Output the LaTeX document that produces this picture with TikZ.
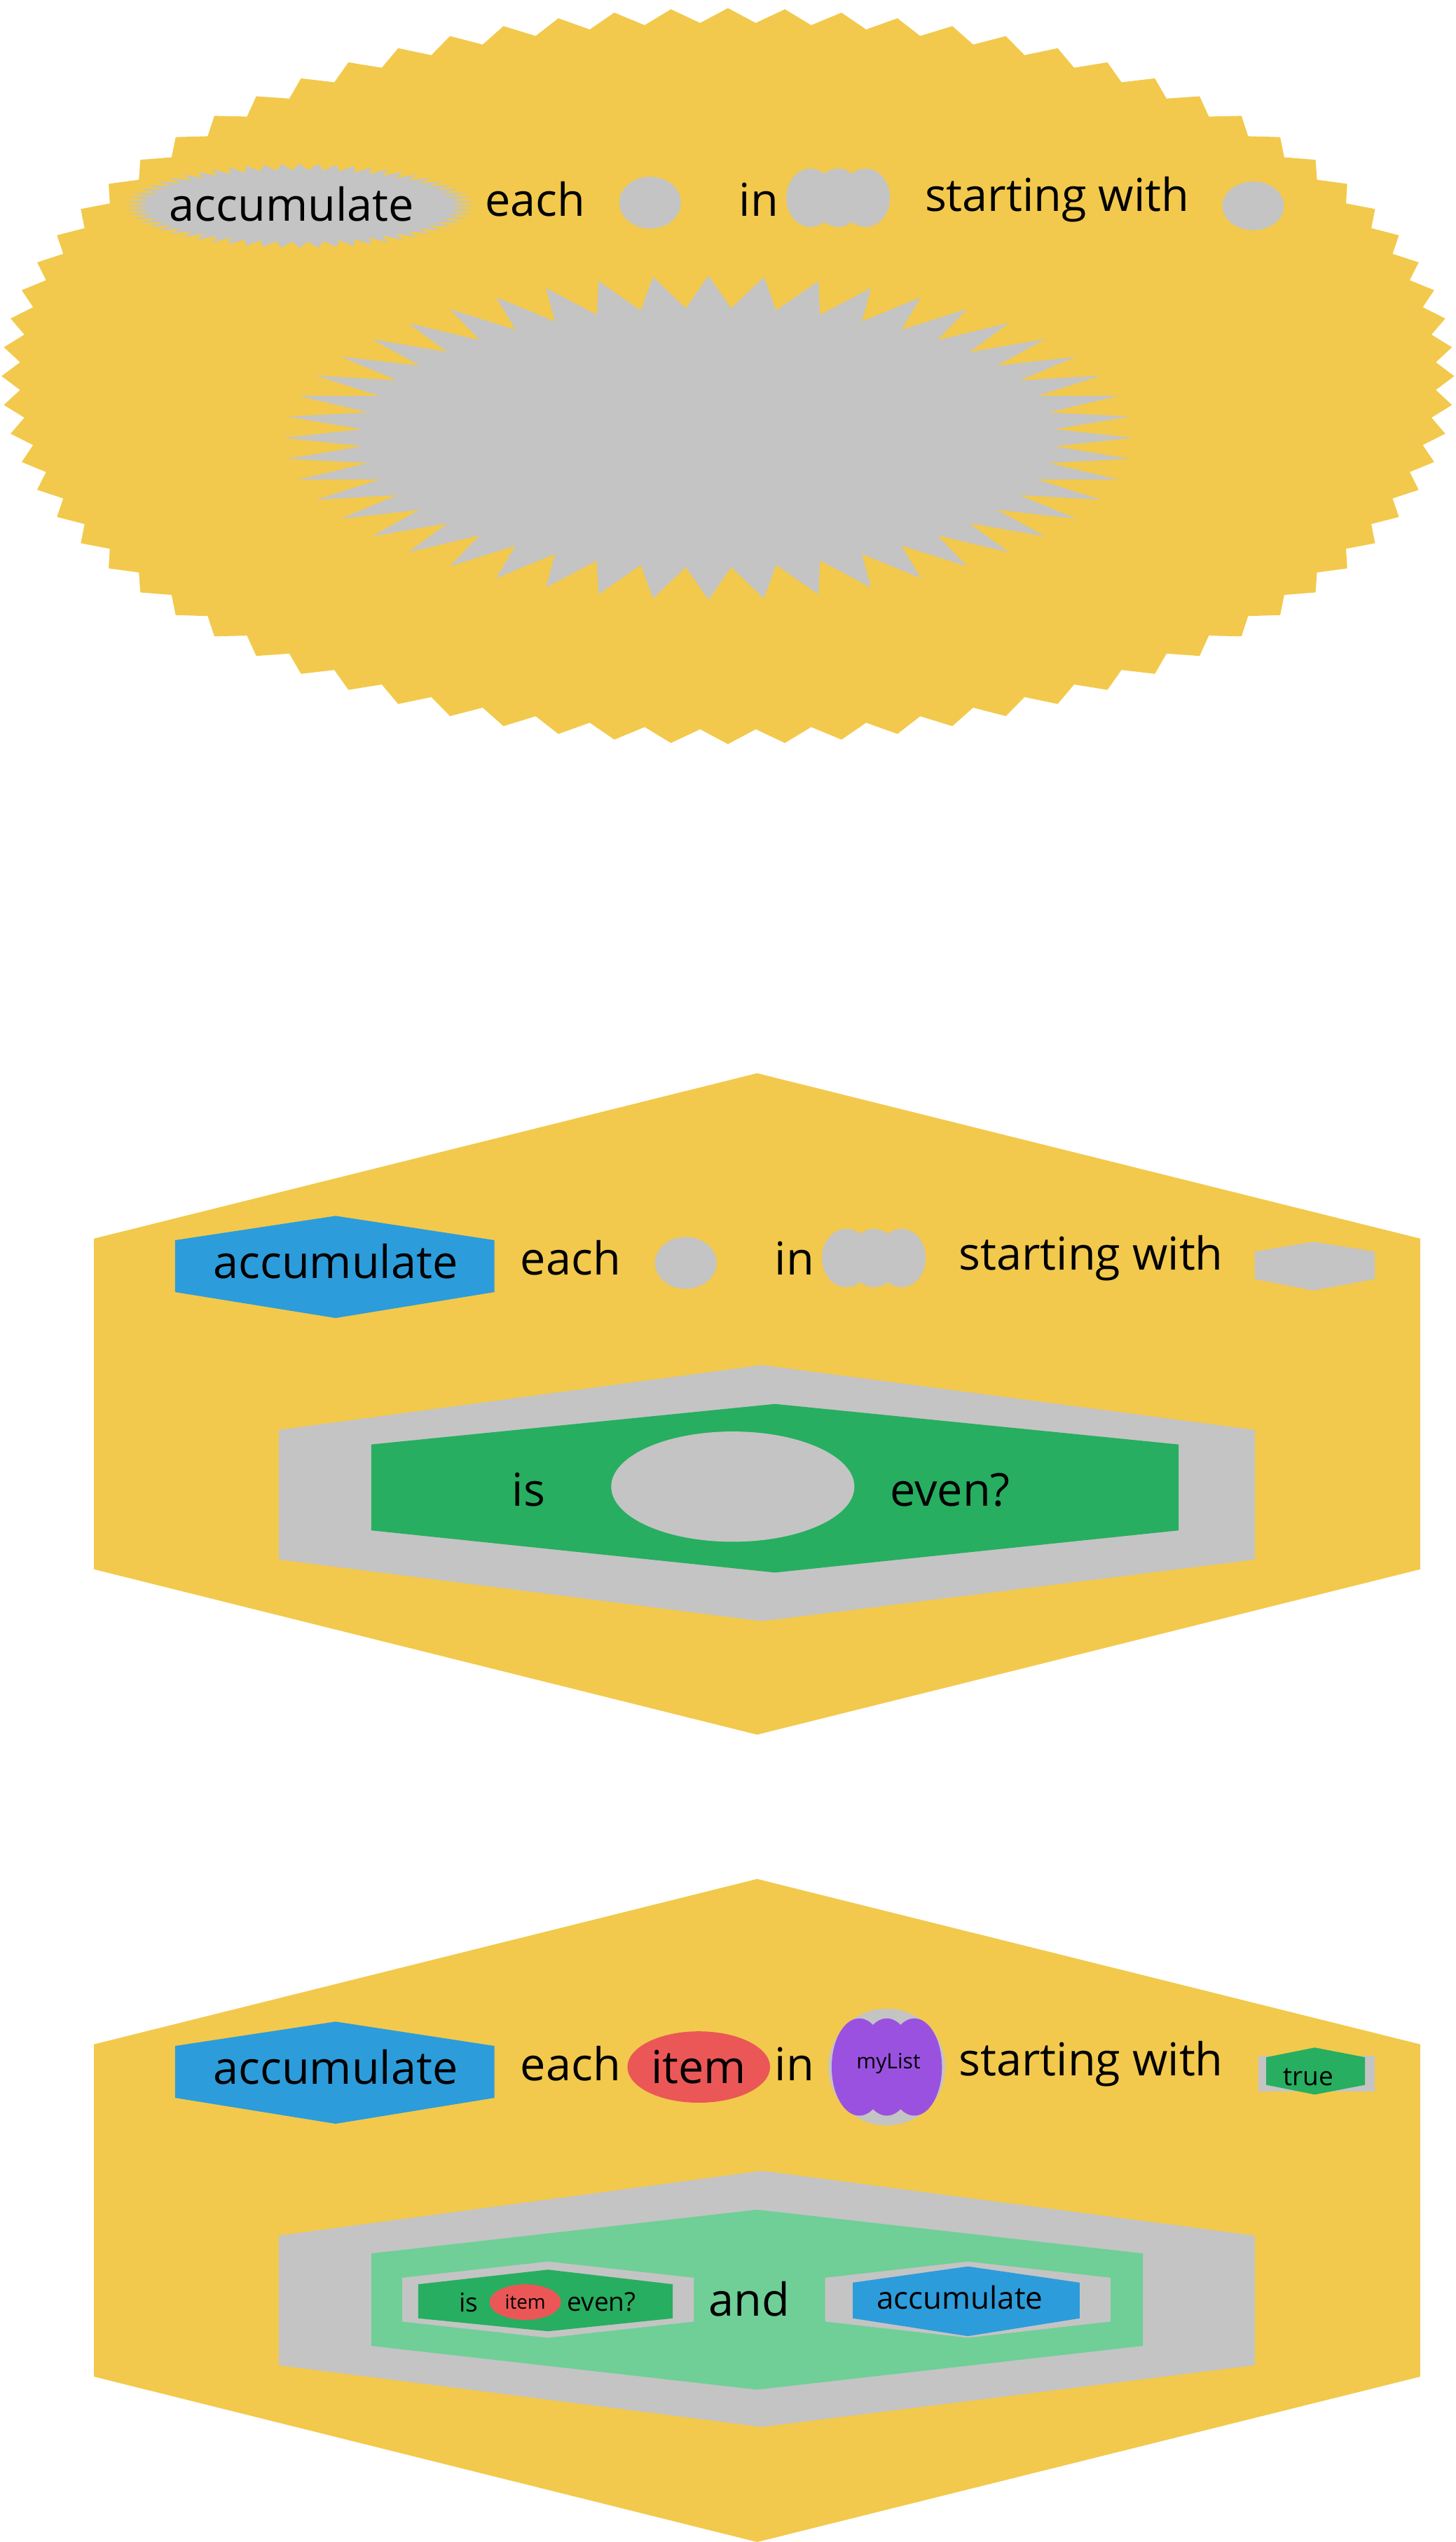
\documentclass[tikz,border=0pt]{standalone}
\usepackage{fontspec}
\setmainfont{Open Sans}
\usetikzlibrary{shapes.geometric}
\definecolor{blockyellow}{HTML}{F2C94C}
\definecolor{slotgray}{HTML}{C4C4C4}
\definecolor{opblue}{HTML}{2D9CDB}
\definecolor{predgreen}{HTML}{27AE60}
\definecolor{lightgreen}{HTML}{6FCF97}
\definecolor{varred}{HTML}{EB5757}
\definecolor{listpurple}{HTML}{9B51E0}
\begin{document}
\begin{tikzpicture}[x=1pt,y=-1pt]
  % Define styles
  \tikzset{
    word/.style={inner sep=0pt, font=\fontsize{28}{30}\selectfont},
    small/.style={inner sep=0pt, font=\fontsize{16}{18}\selectfont},
    tiny/.style={inner sep=0pt, font=\fontsize{12}{14}\selectfont},
    slot/.style={fill=slotgray, ellipse, inner sep=0pt}
  }
  % hexagon: left x, mid x, right x, top of peak, top edge, bottom edge, bottom of peak
  \newcommand{\hexblock}[8]{\fill[#1] (#2,#6) -- (#3,#5) -- (#4,#6) -- (#4,#7) -- (#3,#8) -- (#2,#7) -- cycle;}
  \useasboundingbox (0,0) rectangle (898,1568);

  % ---- first block: all slots empty ----
  \fill[blockyellow] plot[samples at={0,...,159}] ({449+cos(\x*2.25)*(448-11*mod(\x,2))},{232+sin(\x*2.25)*(227-9*mod(\x,2))}) -- cycle;
  \fill[slotgray] plot[samples at={0,...,95}] ({437+cos(\x*3.75)*(262-48*mod(\x,2))},{270+sin(\x*3.75)*(100-20*mod(\x,2))}) -- cycle;
  \fill[slotgray] plot[samples at={0,...,119}] ({185+cos(\x*3)*(108-14*mod(\x,2))},{127+sin(\x*3)*(26-4*mod(\x,2))}) -- cycle;
  \node[word] (acc1) at (180,126) {accumulate};
  \node[word] (each1) at (330,123) {each};
  \node[slot, minimum width=38, minimum height=32] (item1) at (401,125) {};
  \node[word] (in1) at (468,123) {in};
  \foreach \dx in {500,517,534}
    \fill[slotgray] (\dx,122) ellipse (15 and 18);
  \node[word] (start1) at (652,123) {starting with};
  \node[slot, minimum width=38, minimum height=30] (init1) at (773,127) {};

  % ---- second block: predicate filled in ----
  \hexblock{blockyellow}{58}{467}{876}{662}{764}{968}{1070}
  \hexblock{opblue}{108}{207}{305}{750}{765}{797}{813}
  \node[word] (acc2) at (207,778) {accumulate};
  \node[word] (each2) at (352,776) {each};
  \node[slot, minimum width=38, minimum height=32] (item2) at (423,779) {};
  \node[word] (in2) at (490,776) {in};
  \foreach \dx in {522,539,556}
    \fill[slotgray] (\dx,776) ellipse (15 and 18);
  \node[word] (start2) at (673,776) {starting with};
  \hexblock{slotgray}{774}{810}{848}{766}{772}{789}{796}
  \hexblock{slotgray}{172}{470}{774}{842}{882}{962}{1000}
  \hexblock{predgreen}{229}{478}{727}{866}{891}{944}{970}
  \node[word] (is2) at (326,919) {is};
  \node[slot, minimum width=150, minimum height=68] (arg2) at (452,917) {};
  \node[word] (even2) at (586,919) {even?};

  % ---- third block: everything filled in ----
  \hexblock{blockyellow}{58}{467}{876}{1159}{1261}{1466}{1568}
  \hexblock{opblue}{108}{207}{305}{1247}{1262}{1294}{1310}
  \node[word] (acc3) at (207,1275) {accumulate};
  \node[word] (each3) at (352,1273) {each};
  \node[fill=varred, ellipse, minimum width=88, minimum height=44, inner sep=0pt, font=\fontsize{28}{30}\selectfont] (item3) at (431,1275) {item};
  \node[word] (in3) at (490,1273) {in};
  \fill[slotgray] (547,1275) ellipse (36 and 36);
  \foreach \dx in {530,547,564}
    \fill[listpurple] (\dx,1275) ellipse (17 and 30);
  \node[inner sep=0pt, font=\fontsize{13}{15}\selectfont] (list3) at (548,1273) {myList};
  \node[word] (start3) at (673,1273) {starting with};
  \fill[slotgray] (776,1268) rectangle (848,1290);
  \hexblock{predgreen}{781}{811}{842}{1263}{1269}{1286}{1292}
  \node[small] (init3) at (807,1281) {true};
  \hexblock{slotgray}{172}{470}{774}{1339}{1379}{1459}{1497}
  \hexblock{lightgreen}{229}{467}{705}{1363}{1390}{1447}{1474}
  \hexblock{slotgray}{248}{338}{428}{1395}{1405}{1432}{1442}
  \hexblock{predgreen}{258}{338}{415}{1400}{1409}{1430}{1438}
  \node[small] (is3) at (289,1420) {is};
  \node[fill=varred, ellipse, minimum width=44, minimum height=22, inner sep=0pt, font=\fontsize{12}{14}\selectfont] (arg3) at (324,1420) {item};
  \node[small] (even3) at (371,1420) {even?};
  \node[word] (and3) at (462,1418) {and};
  \hexblock{slotgray}{509}{597}{685}{1395}{1405}{1432}{1442}
  \hexblock{opblue}{526}{597}{666}{1398}{1408}{1430}{1441}
  \node[inner sep=0pt, font=\fontsize{19}{21}\selectfont] (acc4) at (592,1417) {accumulate};
\end{tikzpicture}
\end{document}
